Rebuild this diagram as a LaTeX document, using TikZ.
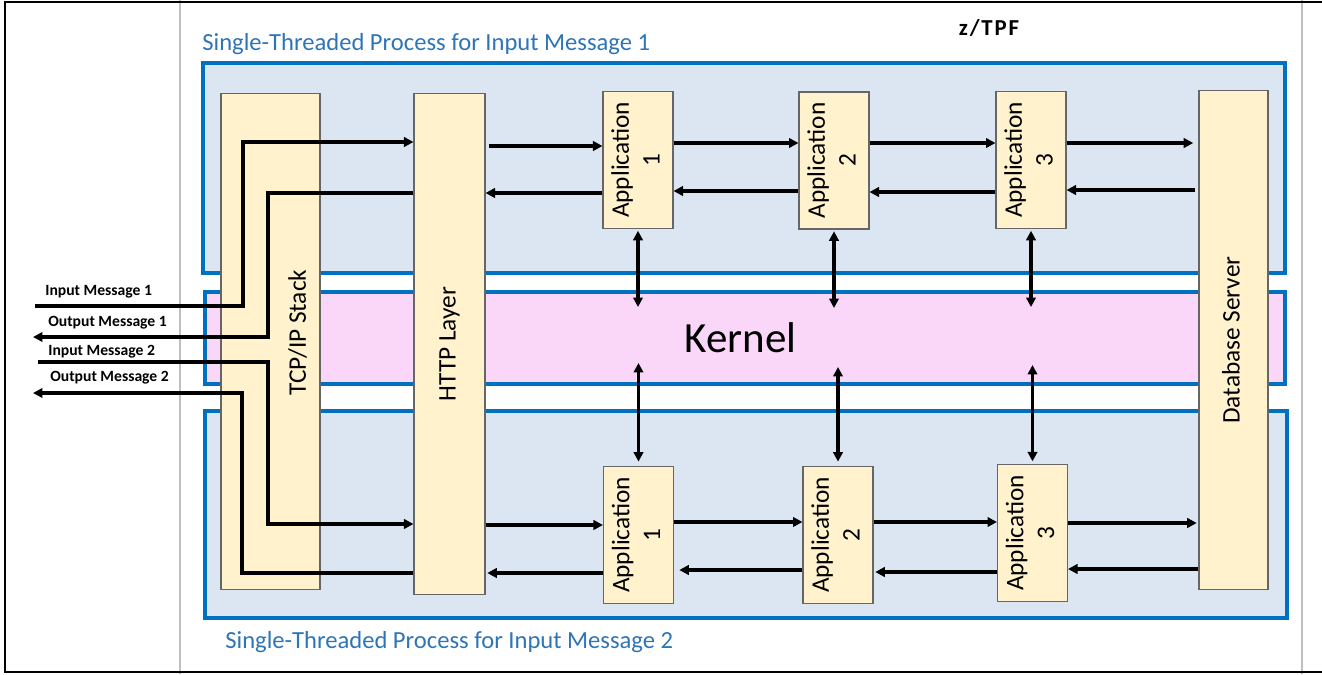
\documentclass[tikz,border=0pt]{standalone}
\usepackage{fontspec}
\setmainfont{Carlito}
\usetikzlibrary{arrows.meta}

\definecolor{procblue}{HTML}{0070C0}
\definecolor{titleblue}{HTML}{2E75B6}
\definecolor{procfill}{HTML}{DCE6F2}
\definecolor{kernfill}{HTML}{FAD7F8}
\definecolor{boxfill}{HTML}{FFF2CC}
\definecolor{boxline}{HTML}{666666}
\definecolor{sepgray}{HTML}{BFBFBF}

\newcommand{\vlabel}[1]{\rotatebox{90}{\begin{tabular}{@{}c@{}}#1\end{tabular}}}

\begin{document}
\begin{tikzpicture}[x=0.02cm,y=-0.02cm,
  region/.style={draw=procblue,line width=2.6pt,fill=procfill},
  kernelbox/.style={draw=procblue,line width=2.6pt,fill=kernfill,inner sep=0pt,
    font=\fontsize{24.5}{28}\selectfont},
  layerbox/.style={draw=boxline,line width=0.6pt,fill=boxfill,inner sep=0pt,
    font=\fontsize{14.4}{17.5}\selectfont},
  appbox/.style={layerbox,minimum width=1.4cm,minimum height=2.74cm},
  flow/.style={line width=1.9pt,-{Triangle[length=5.4pt,width=5.4pt]}},
  dflow/.style={line width=1.9pt,{Triangle[length=5.4pt,width=5.4pt]}-{Triangle[length=5.4pt,width=5.4pt]}},
  msg/.style={font=\fontsize{8.9}{10}\selectfont\bfseries,inner sep=0pt,anchor=west},
  ptitle/.style={font=\fontsize{14}{16}\selectfont,text=titleblue,inner sep=0pt,anchor=west},
  frame/.style={line width=1.2pt,black},
  sep/.style={line width=1.2pt,sepgray}
]
\useasboundingbox (0,0) rectangle (1322,674);

% page frame and side rules
\draw[sep] (180,0) -- (180,674);
\draw[sep] (1302,0) -- (1302,674);
\draw[frame] (1322,2) -- (5,2) -- (5,672) -- (1322,672);

% headings
\node[font=\fontsize{13}{15}\selectfont\bfseries\addfontfeature{LetterSpace=8},inner sep=0pt] (ztpf) at (989,28) {z/TPF};
\node[ptitle] (t1) at (202,44) {Single-Threaded Process for Input Message 1};
\node[ptitle] (t2) at (225,642) {Single-Threaded Process for Input Message 2};

% process regions and kernel
\path[region] (203,63) rectangle (1285,273);
\path[region] (205,411) rectangle (1287,618);
\node[kernelbox,minimum width=21.6cm,minimum height=1.84cm] (kernel) at (745,338)
  {\hspace*{-5pt}\raisebox{-2pt}{Kernel}};

% layer boxes
\node[layerbox,minimum width=1.98cm,minimum height=9.94cm] (tcp) at (270.5,341.5)
  {\rotatebox{90}{\hspace*{10pt}\raisebox{0pt}[\dimexpr\height+31pt][\depth]{TCP/IP Stack}}};
\node[layerbox,minimum width=1.42cm,minimum height=10.04cm] (http) at (449.5,344) {\vlabel{HTTP Layer}};
\node[layerbox,minimum width=1.38cm,minimum height=10cm] (db) at (1233.5,340) {\vlabel{Database Server}};

% applications, process 1
\node[appbox] (a1t) at (638,160) {\vlabel{Application\\1}};
\node[appbox] (a2t) at (834,160.5) {\vlabel{Application\\2}};
\node[appbox] (a3t) at (1031,160) {\vlabel{Application\\3}};
% applications, process 2
\node[appbox] (a1b) at (638.5,535) {\vlabel{Application\\1}};
\node[appbox] (a2b) at (838,535) {\vlabel{Application\\2}};
\node[appbox] (a3b) at (1032.5,533) {\vlabel{Application\\3}};

% message labels
\node[msg] (lin1) at (45,292) {Input Message 1};
\node[msg] (lout1) at (48,323) {Output Message 1};
\node[msg] (lin2) at (48,352) {Input Message 2};
\node[msg] (lout2) at (50,378) {Output Message 2};

% free ends of the message lines
\coordinate (in1) at (35,306);
\coordinate (out1) at (33,337);
\coordinate (in2) at (38,362);
\coordinate (out2) at (33,393);

% messages through the TCP/IP stack
\draw[flow] (in1) -- (243,306) -- (243,142) -- (http.west |- 0,142);
\draw[flow] (http.west |- 0,193) -- (268,193) -- (268,337) -- (out1);
\draw[flow] (in2) -- (268,362) -- (268,524) -- (http.west |- 0,524);
\draw[flow] (http.west |- 0,573) -- (242,573) -- (242,393) -- (out2);

% process 1 chain
\draw[flow,shorten <=2pt] (http.east |- 0,146) -- (a1t.west |- 0,146);
\draw[flow] (a1t.west |- 0,193) -- (http.east |- 0,193);
\draw[flow] (a1t.east |- 0,143) -- (a2t.west |- 0,143);
\draw[flow] (a2t.west |- 0,191) -- (a1t.east |- 0,191);
\draw[flow] (a2t.east |- 0,143) -- (a3t.west |- 0,143);
\draw[flow] (a3t.west |- 0,192) -- (a2t.east |- 0,192);
\draw[flow] (a3t.east |- 0,143) -- ([xshift=-3pt]db.west |- 0,143);
\draw[flow] ([xshift=-2pt]db.west |- 0,190) -- (a3t.east |- 0,190);

% process 2 chain
\draw[flow] (http.east |- 0,525) -- (a1b.west |- 0,525);
\draw[flow] (a1b.west |- 0,573) -- ([xshift=1pt]http.east |- 0,573);
\draw[flow] (a1b.east |- 0,522) -- (a2b.west |- 0,522);
\draw[flow] (a2b.west |- 0,570) -- ([xshift=3pt]a1b.east |- 0,570);
\draw[flow] (a2b.east |- 0,522) -- (a3b.west |- 0,522);
\draw[flow] (a3b.west |- 0,572) -- ([xshift=1pt]a2b.east |- 0,572);
\draw[flow] (a3b.east |- 0,523) -- ([xshift=-1pt]db.west |- 0,523);
\draw[flow] (db.west |- 0,569) -- (a3b.east |- 0,569);

% kernel calls
\draw[dflow,shorten <=1pt] (a1t.south) -- (a1t.south |- 0,307);
\draw[dflow,shorten <=1pt] (a2t.south) -- (a2t.south |- 0,308);
\draw[dflow,shorten <=1pt] (a3t.south) -- (a3t.south |- 0,307);
\draw[dflow,shorten >=2.5pt] (a1b.north |- 0,363) -- (a1b.north);
\draw[dflow,shorten >=2.5pt] (a2b.north |- 0,367) -- (a2b.north);
\draw[dflow,shorten >=1.5pt] (a3b.north |- 0,365) -- (a3b.north);
\end{tikzpicture}
\end{document}
